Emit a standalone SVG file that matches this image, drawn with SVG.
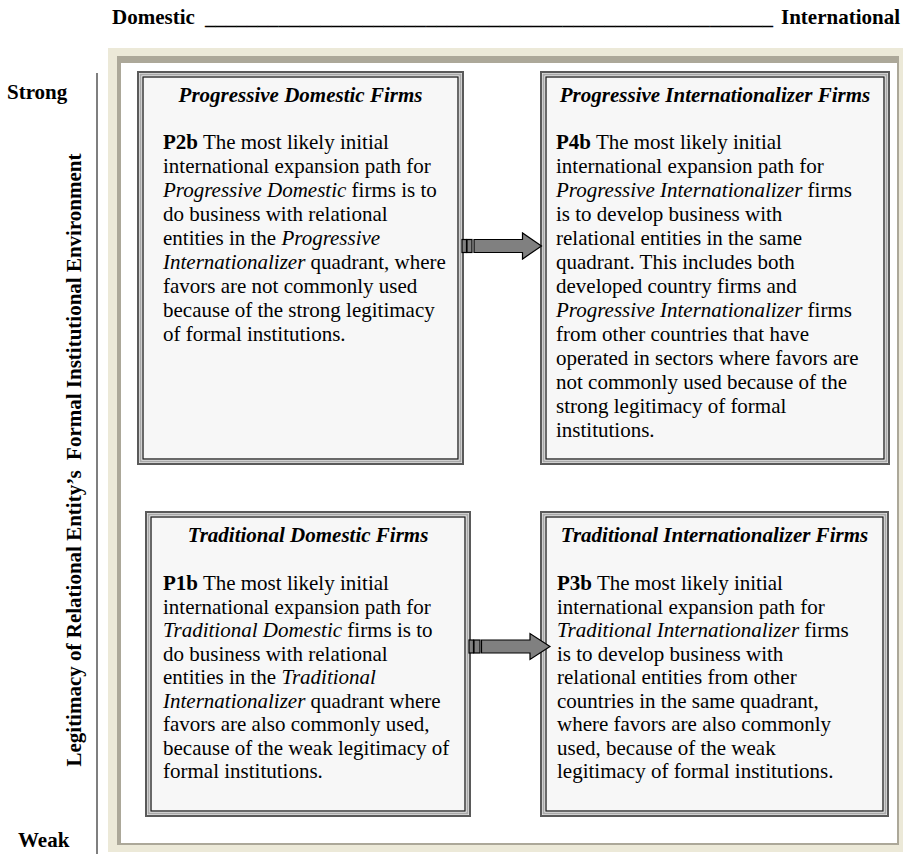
<svg xmlns="http://www.w3.org/2000/svg" width="903" height="854" viewBox="0 0 903 854">
<style>
text { font-family: "Liberation Serif", "Times New Roman", serif; fill: #000; }
.b { font-weight: bold; font-size: 21px; }
.t { font-weight: bold; font-style: italic; font-size: 21px; }
.p { font-size: 21px; }
.i { font-style: italic; }
.bf { font-weight: bold; }
.o1 { fill: #f7f7f7; stroke: #5a5a5a; stroke-width: 2; }
.o2 { fill: none; stroke: #a9a9a9; stroke-width: 2; }
.o3 { fill: none; stroke: #1e1e1e; stroke-width: 1.3; }
.arr { fill: #808080; stroke: #000; stroke-width: 1.2; }
</style>
<rect width="903" height="854" fill="#fff"/>
<!-- header -->
<text class="b" x="112" y="24">Domestic</text>
<text class="b" x="205" y="24" textLength="568" lengthAdjust="spacingAndGlyphs">______________________________________________________</text>
<text class="b" x="900" y="24" text-anchor="end">International</text>
<text class="b" x="7" y="99">Strong</text>
<text class="b" x="18" y="847">Weak</text>
<line x1="97" y1="73" x2="97" y2="854" stroke="#555" stroke-width="1.5"/>
<text class="b" transform="translate(81,460) rotate(-90)" text-anchor="middle" xml:space="preserve">Legitimacy of Relational Entity’s  Formal Institutional Environment</text>
<!-- frame -->
<rect x="108" y="48" width="795" height="804" fill="#ece9d8"/>
<rect x="117" y="56" width="782" height="789" fill="#aca899"/>
<rect x="121" y="63" width="776" height="780" fill="#fff"/>
<!-- nodes -->
<g id="progressive-domestic">
<rect class="o1" x="138" y="72" width="325" height="392"/>
<rect class="o2" x="140.5" y="74.5" width="320" height="387"/>
<rect class="o3" x="143" y="77" width="315" height="382"/>
<text class="t" x="300.5" y="102" text-anchor="middle">Progressive Domestic Firms</text>
<text class="p" x="163" y="149"><tspan class="bf">P2b</tspan> The most likely initial</text>
<text class="p" x="163" y="173">international expansion path for</text>
<text class="p" x="163" y="197"><tspan class="i">Progressive Domestic</tspan> firms is to</text>
<text class="p" x="163" y="221">do business with relational</text>
<text class="p" x="163" y="245">entities in the <tspan class="i">Progressive</tspan></text>
<text class="p" x="163" y="269"><tspan class="i">Internationalizer</tspan> quadrant, where</text>
<text class="p" x="163" y="293">favors are not commonly used</text>
<text class="p" x="163" y="317">because of the strong legitimacy</text>
<text class="p" x="163" y="341">of formal institutions.</text>
</g>
<g id="progressive-internationalizer">
<rect class="o1" x="541" y="72" width="348" height="392"/>
<rect class="o2" x="543.5" y="74.5" width="343" height="387"/>
<rect class="o3" x="546" y="77" width="338" height="382"/>
<text class="t" x="715" y="102" text-anchor="middle">Progressive Internationalizer Firms</text>
<text class="p" x="556" y="149"><tspan class="bf">P4b</tspan> The most likely initial</text>
<text class="p" x="556" y="173">international expansion path for</text>
<text class="p" x="556" y="197"><tspan class="i">Progressive Internationalizer</tspan> firms</text>
<text class="p" x="556" y="221">is to develop business with</text>
<text class="p" x="556" y="245">relational entities in the same</text>
<text class="p" x="556" y="269">quadrant. This includes both</text>
<text class="p" x="556" y="293">developed country firms and</text>
<text class="p" x="556" y="317"><tspan class="i">Progressive Internationalizer</tspan> firms</text>
<text class="p" x="556" y="341">from other countries that have</text>
<text class="p" x="556" y="365">operated in sectors where favors are</text>
<text class="p" x="556" y="389">not commonly used because of the</text>
<text class="p" x="556" y="413">strong legitimacy of formal</text>
<text class="p" x="556" y="437">institutions.</text>
</g>
<g id="traditional-domestic">
<rect class="o1" x="146" y="512" width="324" height="304"/>
<rect class="o2" x="148.5" y="514.5" width="319" height="299"/>
<rect class="o3" x="151" y="517" width="314" height="294"/>
<text class="t" x="308" y="542" text-anchor="middle">Traditional Domestic Firms</text>
<text class="p" x="163" y="590"><tspan class="bf">P1b</tspan> The most likely initial</text>
<text class="p" x="163" y="613.5">international expansion path for</text>
<text class="p" x="163" y="637"><tspan class="i">Traditional Domestic</tspan> firms is to</text>
<text class="p" x="163" y="660.5">do business with relational</text>
<text class="p" x="163" y="684">entities in the <tspan class="i">Traditional</tspan></text>
<text class="p" x="163" y="707.5"><tspan class="i">Internationalizer</tspan> quadrant where</text>
<text class="p" x="163" y="731">favors are also commonly used,</text>
<text class="p" x="163" y="754.5">because of the weak legitimacy of</text>
<text class="p" x="163" y="778">formal institutions.</text>
</g>
<g id="traditional-internationalizer">
<rect class="o1" x="541" y="512" width="347" height="304"/>
<rect class="o2" x="543.5" y="514.5" width="342" height="299"/>
<rect class="o3" x="546" y="517" width="337" height="294"/>
<text class="t" x="714.5" y="542" text-anchor="middle">Traditional Internationalizer Firms</text>
<text class="p" x="557" y="590"><tspan class="bf">P3b</tspan> The most likely initial</text>
<text class="p" x="557" y="613.5">international expansion path for</text>
<text class="p" x="557" y="637"><tspan class="i">Traditional Internationalizer</tspan> firms</text>
<text class="p" x="557" y="660.5">is to develop business with</text>
<text class="p" x="557" y="684">relational entities from other</text>
<text class="p" x="557" y="707.5">countries in the same quadrant,</text>
<text class="p" x="557" y="731">where favors are also commonly</text>
<text class="p" x="557" y="754.5">used, because of the weak</text>
<text class="p" x="557" y="778">legitimacy of formal institutions.</text>
</g>
<!-- connectors -->
<g id="connectors">
<rect class="arr" x="462" y="239.5" width="4.5" height="13"/>
<rect class="arr" x="467" y="239.5" width="5" height="13"/>
<path class="arr" d="M474,239.5 H522.5 V233 L541.5,246 L522.5,259 V252.5 H474 Z"/>
<rect class="arr" x="469" y="640" width="4.5" height="13"/>
<rect class="arr" x="474" y="640" width="6" height="13"/>
<path class="arr" d="M481.5,640 H530 V633.5 L550,646.5 L530,659.5 V653 H481.5 Z"/>
</g>
</svg>
